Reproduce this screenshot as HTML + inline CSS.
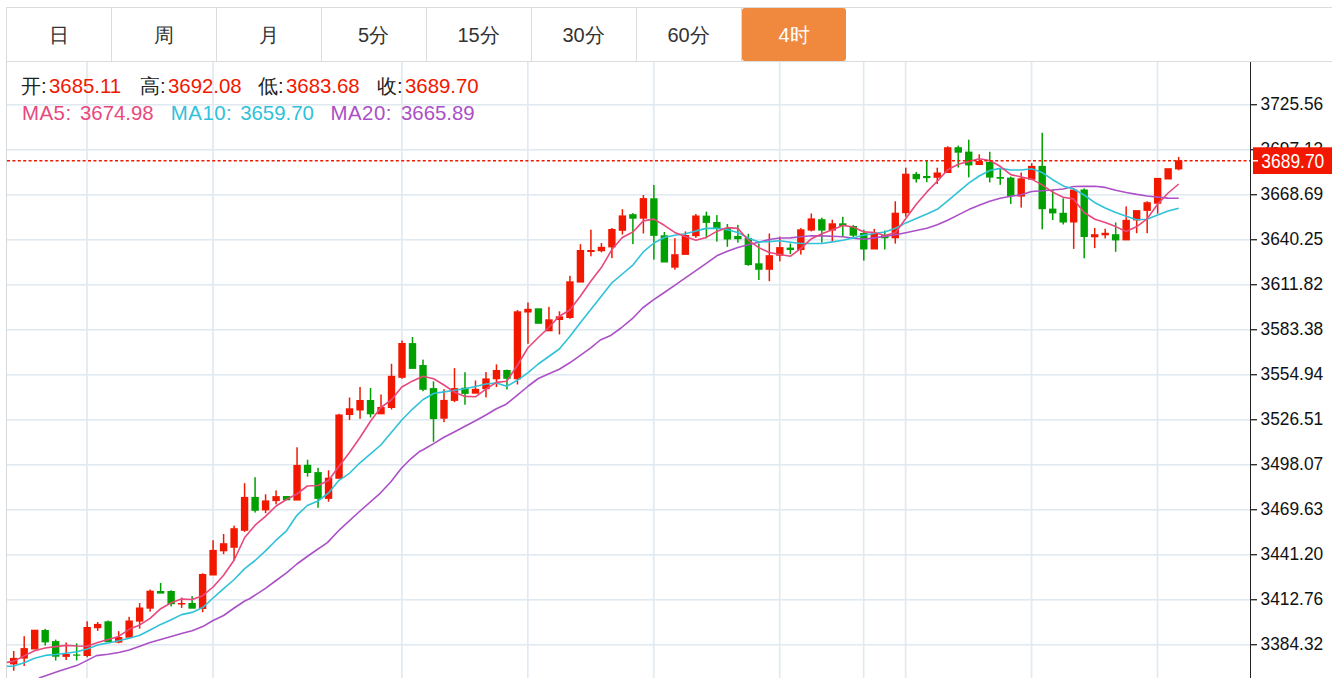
<!DOCTYPE html>
<html><head><meta charset="utf-8"><title>K</title>
<style>
*{margin:0;padding:0;box-sizing:border-box}
html,body{width:1332px;height:678px;overflow:hidden;background:#fff;font-family:"Liberation Sans",sans-serif}
.ch{position:absolute;left:0;top:0}
.tb{position:absolute;left:6px;top:7px;width:1326px;height:55px;border-top:1px solid #dcdcdc;border-bottom:1px solid #dcdcdc;border-left:1px solid #dcdcdc}
.sep{position:absolute;top:8px;width:1px;height:53px;background:#dcdcdc}
.tab{position:absolute;top:8px;width:105px;height:53px;line-height:55px;text-align:center;font-size:20px;color:#333}
.tab.on{left:742px!important;width:104px;background:#f0893e;color:#fff;border-radius:3px}
.lb{position:absolute;left:6px;top:62px;width:1px;height:616px;background:#d8d8d8}
.t{position:absolute;white-space:nowrap;font-size:20.4px;line-height:20px}
.k{color:#222}.r{color:#f21800}.m5{color:#e8487e}.m10{color:#30c2d8}.m20{color:#ab50c6}
</style></head><body>
<svg class="ch" width="1332" height="678" viewBox="0 0 1332 678">
<defs><clipPath id="cp"><rect x="7" y="62" width="1243" height="616"/></clipPath></defs>
<rect x="7" y="104" width="1243" height="1.6" fill="#e1eaf1"/>
<rect x="7" y="149" width="1243" height="1.6" fill="#e1eaf1"/>
<rect x="7" y="194" width="1243" height="1.6" fill="#e1eaf1"/>
<rect x="7" y="239" width="1243" height="1.6" fill="#e1eaf1"/>
<rect x="7" y="284" width="1243" height="1.6" fill="#e1eaf1"/>
<rect x="7" y="329" width="1243" height="1.6" fill="#e1eaf1"/>
<rect x="7" y="374" width="1243" height="1.6" fill="#e1eaf1"/>
<rect x="7" y="419" width="1243" height="1.6" fill="#e1eaf1"/>
<rect x="7" y="464" width="1243" height="1.6" fill="#e1eaf1"/>
<rect x="7" y="509" width="1243" height="1.6" fill="#e1eaf1"/>
<rect x="7" y="554" width="1243" height="1.6" fill="#e1eaf1"/>
<rect x="7" y="599" width="1243" height="1.6" fill="#e1eaf1"/>
<rect x="7" y="644" width="1243" height="1.6" fill="#e1eaf1"/>
<rect x="86.16" y="62" width="1.7" height="616" fill="#e1eaf1"/>
<rect x="212.1" y="62" width="1.7" height="616" fill="#e1eaf1"/>
<rect x="401.01" y="62" width="1.7" height="616" fill="#e1eaf1"/>
<rect x="526.96" y="62" width="1.7" height="616" fill="#e1eaf1"/>
<rect x="652.89" y="62" width="1.7" height="616" fill="#e1eaf1"/>
<rect x="778.84" y="62" width="1.7" height="616" fill="#e1eaf1"/>
<rect x="862.79" y="62" width="1.7" height="616" fill="#e1eaf1"/>
<rect x="904.77" y="62" width="1.7" height="616" fill="#e1eaf1"/>
<rect x="1030.71" y="62" width="1.7" height="616" fill="#e1eaf1"/>
<rect x="1156.65" y="62" width="1.7" height="616" fill="#e1eaf1"/>
<g clip-path="url(#cp)">
<rect x="10" y="657.9" width="7.4" height="6.5" fill="#f21800"/>
<rect x="12.95" y="651" width="1.5" height="7.4" fill="#f21800"/>
<rect x="12.95" y="663.9" width="1.5" height="6.8" fill="#f21800"/>
<rect x="20.5" y="648.1" width="7.4" height="10.5" fill="#f21800"/>
<rect x="23.45" y="636.2" width="1.5" height="12.4" fill="#f21800"/>
<rect x="23.45" y="658.1" width="1.5" height="7.8" fill="#f21800"/>
<rect x="30.99" y="629.7" width="7.4" height="19.8" fill="#f21800"/>
<rect x="41.48" y="630" width="7.4" height="12.4" fill="#00a000"/>
<rect x="44.44" y="628.9" width="1.5" height="1.6" fill="#00a000"/>
<rect x="44.44" y="641.9" width="1.5" height="3.6" fill="#00a000"/>
<rect x="51.98" y="641.1" width="7.4" height="15.6" fill="#00a000"/>
<rect x="54.93" y="639.6" width="1.5" height="2" fill="#00a000"/>
<rect x="54.93" y="656.2" width="1.5" height="4.3" fill="#00a000"/>
<rect x="62.47" y="654" width="7.4" height="2.9" fill="#f21800"/>
<rect x="65.42" y="642.5" width="1.5" height="12" fill="#f21800"/>
<rect x="65.42" y="656.4" width="1.5" height="3.6" fill="#f21800"/>
<rect x="72.97" y="654.5" width="7.4" height="1.2" fill="#00a000"/>
<rect x="75.92" y="643.3" width="1.5" height="11.7" fill="#00a000"/>
<rect x="75.92" y="655.1" width="1.5" height="5.4" fill="#00a000"/>
<rect x="83.46" y="627" width="7.4" height="29" fill="#f21800"/>
<rect x="86.41" y="621.3" width="1.5" height="6.2" fill="#f21800"/>
<rect x="86.41" y="655.5" width="1.5" height="1.8" fill="#f21800"/>
<rect x="93.96" y="623.9" width="7.4" height="4.3" fill="#f21800"/>
<rect x="96.91" y="622" width="1.5" height="2.4" fill="#f21800"/>
<rect x="96.91" y="627.7" width="1.5" height="3.2" fill="#f21800"/>
<rect x="104.45" y="621.3" width="7.4" height="20.9" fill="#00a000"/>
<rect x="107.41" y="620.5" width="1.5" height="1.3" fill="#00a000"/>
<rect x="114.95" y="637" width="7.4" height="5.6" fill="#f21800"/>
<rect x="117.9" y="631.2" width="1.5" height="6.3" fill="#f21800"/>
<rect x="117.9" y="642.1" width="1.5" height="1.2" fill="#f21800"/>
<rect x="125.44" y="620.5" width="7.4" height="17.2" fill="#f21800"/>
<rect x="128.39" y="616.8" width="1.5" height="4.2" fill="#f21800"/>
<rect x="135.94" y="607.5" width="7.4" height="14.1" fill="#f21800"/>
<rect x="138.89" y="603" width="1.5" height="5" fill="#f21800"/>
<rect x="138.89" y="621.1" width="1.5" height="7.5" fill="#f21800"/>
<rect x="146.44" y="590.7" width="7.4" height="18" fill="#f21800"/>
<rect x="149.38" y="589.5" width="1.5" height="1.7" fill="#f21800"/>
<rect x="149.38" y="608.2" width="1.5" height="3.4" fill="#f21800"/>
<rect x="156.93" y="591" width="7.4" height="2.6" fill="#00a000"/>
<rect x="159.88" y="582.9" width="1.5" height="8.6" fill="#00a000"/>
<rect x="167.42" y="591" width="7.4" height="13.2" fill="#00a000"/>
<rect x="170.37" y="590.2" width="1.5" height="1.3" fill="#00a000"/>
<rect x="170.37" y="603.7" width="1.5" height="2.7" fill="#00a000"/>
<rect x="177.92" y="603" width="7.4" height="1.5" fill="#f21800"/>
<rect x="180.87" y="597.6" width="1.5" height="5.9" fill="#f21800"/>
<rect x="180.87" y="604" width="1.5" height="3.9" fill="#f21800"/>
<rect x="188.41" y="603" width="7.4" height="5.7" fill="#00a000"/>
<rect x="191.36" y="596.1" width="1.5" height="7.4" fill="#00a000"/>
<rect x="198.91" y="574" width="7.4" height="35" fill="#f21800"/>
<rect x="201.86" y="573.3" width="1.5" height="1.2" fill="#f21800"/>
<rect x="201.86" y="608.5" width="1.5" height="3.7" fill="#f21800"/>
<rect x="209.4" y="549.9" width="7.4" height="25.6" fill="#f21800"/>
<rect x="212.35" y="540.3" width="1.5" height="10.1" fill="#f21800"/>
<rect x="219.9" y="543.2" width="7.4" height="8.1" fill="#f21800"/>
<rect x="222.85" y="534" width="1.5" height="9.7" fill="#f21800"/>
<rect x="222.85" y="550.8" width="1.5" height="3.4" fill="#f21800"/>
<rect x="230.39" y="528.2" width="7.4" height="19.6" fill="#f21800"/>
<rect x="233.34" y="525.6" width="1.5" height="3.1" fill="#f21800"/>
<rect x="233.34" y="547.3" width="1.5" height="13.2" fill="#f21800"/>
<rect x="240.89" y="496.9" width="7.4" height="33.9" fill="#f21800"/>
<rect x="243.84" y="483.2" width="1.5" height="14.2" fill="#f21800"/>
<rect x="243.84" y="530.3" width="1.5" height="1.6" fill="#f21800"/>
<rect x="251.38" y="496.9" width="7.4" height="13.9" fill="#00a000"/>
<rect x="254.33" y="477.2" width="1.5" height="20.2" fill="#00a000"/>
<rect x="254.33" y="510.3" width="1.5" height="2.3" fill="#00a000"/>
<rect x="261.88" y="500.4" width="7.4" height="10" fill="#f21800"/>
<rect x="264.83" y="494.3" width="1.5" height="6.6" fill="#f21800"/>
<rect x="264.83" y="509.9" width="1.5" height="3.3" fill="#f21800"/>
<rect x="272.38" y="496.1" width="7.4" height="5" fill="#f21800"/>
<rect x="275.32" y="490.4" width="1.5" height="6.2" fill="#f21800"/>
<rect x="275.32" y="500.6" width="1.5" height="3.7" fill="#f21800"/>
<rect x="282.87" y="496" width="7.4" height="4.3" fill="#00a000"/>
<rect x="293.36" y="464.9" width="7.4" height="35.7" fill="#f21800"/>
<rect x="296.31" y="447.3" width="1.5" height="18.1" fill="#f21800"/>
<rect x="303.86" y="464.8" width="7.4" height="8.2" fill="#00a000"/>
<rect x="306.81" y="459.7" width="1.5" height="5.6" fill="#00a000"/>
<rect x="306.81" y="472.5" width="1.5" height="4.1" fill="#00a000"/>
<rect x="314.35" y="472.1" width="7.4" height="26.8" fill="#00a000"/>
<rect x="317.3" y="467.8" width="1.5" height="4.8" fill="#00a000"/>
<rect x="317.3" y="498.4" width="1.5" height="9.3" fill="#00a000"/>
<rect x="324.85" y="477.7" width="7.4" height="21.2" fill="#f21800"/>
<rect x="327.8" y="470.3" width="1.5" height="7.9" fill="#f21800"/>
<rect x="327.8" y="498.4" width="1.5" height="3.3" fill="#f21800"/>
<rect x="335.34" y="414.5" width="7.4" height="64.3" fill="#f21800"/>
<rect x="338.29" y="413.8" width="1.5" height="1.2" fill="#f21800"/>
<rect x="345.84" y="408.3" width="7.4" height="6.7" fill="#f21800"/>
<rect x="348.79" y="397.5" width="1.5" height="11.3" fill="#f21800"/>
<rect x="348.79" y="414.5" width="1.5" height="5.5" fill="#f21800"/>
<rect x="356.33" y="400" width="7.4" height="10.5" fill="#f21800"/>
<rect x="359.28" y="387" width="1.5" height="13.5" fill="#f21800"/>
<rect x="359.28" y="410" width="1.5" height="8.8" fill="#f21800"/>
<rect x="366.83" y="400" width="7.4" height="14.3" fill="#00a000"/>
<rect x="369.78" y="388" width="1.5" height="12.5" fill="#00a000"/>
<rect x="369.78" y="413.8" width="1.5" height="3.7" fill="#00a000"/>
<rect x="377.32" y="407" width="7.4" height="7.3" fill="#f21800"/>
<rect x="380.27" y="394.5" width="1.5" height="13" fill="#f21800"/>
<rect x="387.82" y="375.8" width="7.4" height="32.2" fill="#f21800"/>
<rect x="390.77" y="363.8" width="1.5" height="12.5" fill="#f21800"/>
<rect x="390.77" y="407.5" width="1.5" height="2" fill="#f21800"/>
<rect x="398.31" y="343" width="7.4" height="34.8" fill="#f21800"/>
<rect x="401.26" y="340.5" width="1.5" height="3" fill="#f21800"/>
<rect x="401.26" y="377.3" width="1.5" height="1.5" fill="#f21800"/>
<rect x="408.81" y="343.1" width="7.4" height="25.8" fill="#00a000"/>
<rect x="411.76" y="337" width="1.5" height="6.6" fill="#00a000"/>
<rect x="419.3" y="365" width="7.4" height="24.8" fill="#00a000"/>
<rect x="422.25" y="359.6" width="1.5" height="5.9" fill="#00a000"/>
<rect x="422.25" y="389.3" width="1.5" height="1.9" fill="#00a000"/>
<rect x="429.8" y="388.1" width="7.4" height="31" fill="#00a000"/>
<rect x="432.75" y="381.3" width="1.5" height="7.3" fill="#00a000"/>
<rect x="432.75" y="418.6" width="1.5" height="23.2" fill="#00a000"/>
<rect x="440.29" y="399.9" width="7.4" height="18.8" fill="#f21800"/>
<rect x="443.24" y="389.2" width="1.5" height="11.2" fill="#f21800"/>
<rect x="443.24" y="418.2" width="1.5" height="4" fill="#f21800"/>
<rect x="450.79" y="388.1" width="7.4" height="12.8" fill="#f21800"/>
<rect x="453.74" y="368.1" width="1.5" height="20.5" fill="#f21800"/>
<rect x="453.74" y="400.4" width="1.5" height="1.8" fill="#f21800"/>
<rect x="461.28" y="387.7" width="7.4" height="6.2" fill="#00a000"/>
<rect x="464.23" y="372.2" width="1.5" height="16" fill="#00a000"/>
<rect x="464.23" y="393.4" width="1.5" height="11.3" fill="#00a000"/>
<rect x="471.78" y="388.8" width="7.4" height="4.9" fill="#f21800"/>
<rect x="474.73" y="380.5" width="1.5" height="8.8" fill="#f21800"/>
<rect x="482.27" y="378.4" width="7.4" height="10.8" fill="#f21800"/>
<rect x="485.22" y="372" width="1.5" height="6.9" fill="#f21800"/>
<rect x="485.22" y="388.7" width="1.5" height="8.7" fill="#f21800"/>
<rect x="492.77" y="370" width="7.4" height="9.3" fill="#f21800"/>
<rect x="495.72" y="364.4" width="1.5" height="6.1" fill="#f21800"/>
<rect x="495.72" y="378.8" width="1.5" height="8.3" fill="#f21800"/>
<rect x="503.26" y="370" width="7.4" height="8.8" fill="#00a000"/>
<rect x="506.21" y="369.6" width="1.5" height="0.9" fill="#00a000"/>
<rect x="506.21" y="378.3" width="1.5" height="11.2" fill="#00a000"/>
<rect x="513.76" y="311.3" width="7.4" height="68" fill="#f21800"/>
<rect x="516.71" y="310" width="1.5" height="1.8" fill="#f21800"/>
<rect x="516.71" y="378.8" width="1.5" height="5.7" fill="#f21800"/>
<rect x="524.25" y="308.8" width="7.4" height="3.7" fill="#f21800"/>
<rect x="527.21" y="302.5" width="1.5" height="6.8" fill="#f21800"/>
<rect x="527.21" y="312" width="1.5" height="31.8" fill="#f21800"/>
<rect x="534.75" y="308.3" width="7.4" height="15.5" fill="#00a000"/>
<rect x="545.25" y="319.3" width="7.4" height="12" fill="#f21800"/>
<rect x="548.2" y="306.8" width="1.5" height="13" fill="#f21800"/>
<rect x="555.74" y="316.3" width="7.4" height="3.7" fill="#f21800"/>
<rect x="558.69" y="311.3" width="1.5" height="5.5" fill="#f21800"/>
<rect x="558.69" y="319.5" width="1.5" height="15" fill="#f21800"/>
<rect x="566.24" y="281.3" width="7.4" height="36.7" fill="#f21800"/>
<rect x="569.19" y="275.8" width="1.5" height="6" fill="#f21800"/>
<rect x="569.19" y="317.5" width="1.5" height="1.3" fill="#f21800"/>
<rect x="576.73" y="250" width="7.4" height="32.6" fill="#f21800"/>
<rect x="579.68" y="244.2" width="1.5" height="6.3" fill="#f21800"/>
<rect x="587.22" y="250" width="7.4" height="2" fill="#f21800"/>
<rect x="590.17" y="229.7" width="1.5" height="20.8" fill="#f21800"/>
<rect x="590.17" y="251.5" width="1.5" height="4.8" fill="#f21800"/>
<rect x="597.72" y="246.8" width="7.4" height="4.4" fill="#f21800"/>
<rect x="600.67" y="243" width="1.5" height="4.3" fill="#f21800"/>
<rect x="600.67" y="250.7" width="1.5" height="1.6" fill="#f21800"/>
<rect x="608.21" y="229" width="7.4" height="18.4" fill="#f21800"/>
<rect x="611.16" y="228" width="1.5" height="1.5" fill="#f21800"/>
<rect x="611.16" y="246.9" width="1.5" height="11.2" fill="#f21800"/>
<rect x="618.71" y="215.4" width="7.4" height="15.4" fill="#f21800"/>
<rect x="621.66" y="209.2" width="1.5" height="6.7" fill="#f21800"/>
<rect x="621.66" y="230.3" width="1.5" height="4.3" fill="#f21800"/>
<rect x="629.2" y="214.2" width="7.4" height="4.5" fill="#00a000"/>
<rect x="632.15" y="213.1" width="1.5" height="1.6" fill="#00a000"/>
<rect x="632.15" y="218.2" width="1.5" height="25.9" fill="#00a000"/>
<rect x="639.7" y="198.1" width="7.4" height="20.6" fill="#f21800"/>
<rect x="642.65" y="195" width="1.5" height="3.6" fill="#f21800"/>
<rect x="642.65" y="218.2" width="1.5" height="15.3" fill="#f21800"/>
<rect x="650.19" y="198.3" width="7.4" height="37.6" fill="#00a000"/>
<rect x="653.14" y="185" width="1.5" height="13.8" fill="#00a000"/>
<rect x="653.14" y="235.4" width="1.5" height="24.2" fill="#00a000"/>
<rect x="660.69" y="235.3" width="7.4" height="27.2" fill="#00a000"/>
<rect x="663.64" y="232" width="1.5" height="3.8" fill="#00a000"/>
<rect x="671.18" y="254.2" width="7.4" height="13.5" fill="#f21800"/>
<rect x="674.13" y="238.2" width="1.5" height="16.5" fill="#f21800"/>
<rect x="674.13" y="267.2" width="1.5" height="2.5" fill="#f21800"/>
<rect x="681.68" y="235" width="7.4" height="19.9" fill="#f21800"/>
<rect x="684.63" y="231.4" width="1.5" height="4.1" fill="#f21800"/>
<rect x="692.17" y="215.5" width="7.4" height="20.7" fill="#f21800"/>
<rect x="695.12" y="214" width="1.5" height="2" fill="#f21800"/>
<rect x="695.12" y="235.7" width="1.5" height="2.2" fill="#f21800"/>
<rect x="702.67" y="215.6" width="7.4" height="7.3" fill="#00a000"/>
<rect x="705.62" y="211.6" width="1.5" height="4.5" fill="#00a000"/>
<rect x="705.62" y="222.4" width="1.5" height="15.9" fill="#00a000"/>
<rect x="713.16" y="222" width="7.4" height="6.1" fill="#00a000"/>
<rect x="716.12" y="215.1" width="1.5" height="7.4" fill="#00a000"/>
<rect x="716.12" y="227.6" width="1.5" height="14" fill="#00a000"/>
<rect x="723.66" y="228.1" width="7.4" height="11.4" fill="#00a000"/>
<rect x="726.61" y="224" width="1.5" height="4.6" fill="#00a000"/>
<rect x="726.61" y="239" width="1.5" height="7.8" fill="#00a000"/>
<rect x="734.15" y="235.9" width="7.4" height="3.3" fill="#00a000"/>
<rect x="737.11" y="224.9" width="1.5" height="11.5" fill="#00a000"/>
<rect x="737.11" y="238.7" width="1.5" height="4" fill="#00a000"/>
<rect x="744.65" y="237.9" width="7.4" height="27.1" fill="#00a000"/>
<rect x="747.6" y="233.8" width="1.5" height="4.6" fill="#00a000"/>
<rect x="747.6" y="264.5" width="1.5" height="1.3" fill="#00a000"/>
<rect x="755.14" y="263.3" width="7.4" height="6.5" fill="#00a000"/>
<rect x="758.1" y="243.5" width="1.5" height="20.3" fill="#00a000"/>
<rect x="758.1" y="269.3" width="1.5" height="10.7" fill="#00a000"/>
<rect x="765.64" y="255.2" width="7.4" height="14.6" fill="#f21800"/>
<rect x="768.59" y="233.5" width="1.5" height="22.2" fill="#f21800"/>
<rect x="768.59" y="269.3" width="1.5" height="11.9" fill="#f21800"/>
<rect x="776.13" y="247.1" width="7.4" height="8.6" fill="#f21800"/>
<rect x="779.09" y="236.6" width="1.5" height="11" fill="#f21800"/>
<rect x="779.09" y="255.2" width="1.5" height="6.2" fill="#f21800"/>
<rect x="786.63" y="247.6" width="7.4" height="2.4" fill="#00a000"/>
<rect x="789.58" y="243.5" width="1.5" height="4.6" fill="#00a000"/>
<rect x="789.58" y="249.5" width="1.5" height="4.6" fill="#00a000"/>
<rect x="797.12" y="229.3" width="7.4" height="20.7" fill="#f21800"/>
<rect x="800.07" y="228.1" width="1.5" height="1.7" fill="#f21800"/>
<rect x="800.07" y="249.5" width="1.5" height="5.1" fill="#f21800"/>
<rect x="807.62" y="218.4" width="7.4" height="12.2" fill="#f21800"/>
<rect x="810.57" y="213.5" width="1.5" height="5.4" fill="#f21800"/>
<rect x="810.57" y="230.1" width="1.5" height="1.3" fill="#f21800"/>
<rect x="818.11" y="219.2" width="7.4" height="11.4" fill="#00a000"/>
<rect x="821.06" y="217.6" width="1.5" height="2.1" fill="#00a000"/>
<rect x="821.06" y="230.1" width="1.5" height="12.6" fill="#00a000"/>
<rect x="828.61" y="223.3" width="7.4" height="7.3" fill="#f21800"/>
<rect x="831.56" y="219.7" width="1.5" height="4.1" fill="#f21800"/>
<rect x="831.56" y="230.1" width="1.5" height="11" fill="#f21800"/>
<rect x="839.1" y="223.3" width="7.4" height="2.7" fill="#00a000"/>
<rect x="842.05" y="216.8" width="1.5" height="7" fill="#00a000"/>
<rect x="842.05" y="225.5" width="1.5" height="10.7" fill="#00a000"/>
<rect x="849.6" y="226" width="7.4" height="9.7" fill="#00a000"/>
<rect x="852.55" y="224.9" width="1.5" height="1.6" fill="#00a000"/>
<rect x="852.55" y="235.2" width="1.5" height="1.8" fill="#00a000"/>
<rect x="860.09" y="233" width="7.4" height="16.5" fill="#00a000"/>
<rect x="863.04" y="229.7" width="1.5" height="3.8" fill="#00a000"/>
<rect x="863.04" y="249" width="1.5" height="11.6" fill="#00a000"/>
<rect x="870.59" y="233.5" width="7.4" height="16" fill="#f21800"/>
<rect x="873.54" y="228.9" width="1.5" height="5.1" fill="#f21800"/>
<rect x="881.08" y="235.1" width="7.4" height="3.2" fill="#00a000"/>
<rect x="884.03" y="230.6" width="1.5" height="5" fill="#00a000"/>
<rect x="884.03" y="237.8" width="1.5" height="11.7" fill="#00a000"/>
<rect x="891.58" y="212.7" width="7.4" height="25.6" fill="#f21800"/>
<rect x="894.53" y="201.3" width="1.5" height="11.9" fill="#f21800"/>
<rect x="894.53" y="237.8" width="1.5" height="5.8" fill="#f21800"/>
<rect x="902.07" y="173.7" width="7.4" height="39.5" fill="#f21800"/>
<rect x="905.02" y="167.7" width="1.5" height="6.5" fill="#f21800"/>
<rect x="905.02" y="212.7" width="1.5" height="4" fill="#f21800"/>
<rect x="912.57" y="173.9" width="7.4" height="5.3" fill="#00a000"/>
<rect x="915.52" y="171.9" width="1.5" height="2.5" fill="#00a000"/>
<rect x="915.52" y="178.7" width="1.5" height="3.9" fill="#00a000"/>
<rect x="923.06" y="176" width="7.4" height="2.1" fill="#00a000"/>
<rect x="926.01" y="161" width="1.5" height="15.5" fill="#00a000"/>
<rect x="926.01" y="177.6" width="1.5" height="4.6" fill="#00a000"/>
<rect x="933.56" y="172.5" width="7.4" height="5.3" fill="#f21800"/>
<rect x="936.51" y="167.7" width="1.5" height="5.3" fill="#f21800"/>
<rect x="936.51" y="177.3" width="1.5" height="6.7" fill="#f21800"/>
<rect x="944.05" y="147.2" width="7.4" height="25.8" fill="#f21800"/>
<rect x="947" y="146.3" width="1.5" height="1.4" fill="#f21800"/>
<rect x="954.55" y="147.2" width="7.4" height="5.5" fill="#00a000"/>
<rect x="957.5" y="145.6" width="1.5" height="2.1" fill="#00a000"/>
<rect x="957.5" y="152.2" width="1.5" height="15.3" fill="#00a000"/>
<rect x="965.04" y="151.6" width="7.4" height="13.8" fill="#00a000"/>
<rect x="968" y="139.7" width="1.5" height="12.4" fill="#00a000"/>
<rect x="968" y="164.9" width="1.5" height="12.5" fill="#00a000"/>
<rect x="975.54" y="161" width="7.4" height="4" fill="#f21800"/>
<rect x="978.49" y="154.4" width="1.5" height="7.1" fill="#f21800"/>
<rect x="986.03" y="161.8" width="7.4" height="15.8" fill="#00a000"/>
<rect x="988.99" y="151.8" width="1.5" height="10.5" fill="#00a000"/>
<rect x="988.99" y="177.1" width="1.5" height="5.3" fill="#00a000"/>
<rect x="996.53" y="177" width="7.4" height="1.7" fill="#00a000"/>
<rect x="999.48" y="168.4" width="1.5" height="9.1" fill="#00a000"/>
<rect x="999.48" y="178.2" width="1.5" height="6.7" fill="#00a000"/>
<rect x="1007.02" y="177.6" width="7.4" height="18.6" fill="#00a000"/>
<rect x="1009.98" y="176.6" width="1.5" height="1.5" fill="#00a000"/>
<rect x="1009.98" y="195.7" width="1.5" height="8.2" fill="#00a000"/>
<rect x="1017.52" y="178.3" width="7.4" height="18.3" fill="#f21800"/>
<rect x="1020.47" y="172.5" width="1.5" height="6.3" fill="#f21800"/>
<rect x="1020.47" y="196.1" width="1.5" height="11.5" fill="#f21800"/>
<rect x="1028.01" y="165.9" width="7.4" height="13.8" fill="#f21800"/>
<rect x="1030.96" y="163.2" width="1.5" height="3.2" fill="#f21800"/>
<rect x="1038.51" y="165.9" width="7.4" height="43.3" fill="#00a000"/>
<rect x="1041.46" y="132.8" width="1.5" height="33.6" fill="#00a000"/>
<rect x="1041.46" y="208.7" width="1.5" height="20.6" fill="#00a000"/>
<rect x="1049" y="208.6" width="7.4" height="4.8" fill="#00a000"/>
<rect x="1051.95" y="189.4" width="1.5" height="19.7" fill="#00a000"/>
<rect x="1051.95" y="212.9" width="1.5" height="7.1" fill="#00a000"/>
<rect x="1059.5" y="212.8" width="7.4" height="9.7" fill="#00a000"/>
<rect x="1062.45" y="198.3" width="1.5" height="15" fill="#00a000"/>
<rect x="1062.45" y="222" width="1.5" height="2.5" fill="#00a000"/>
<rect x="1069.99" y="189.6" width="7.4" height="32.9" fill="#f21800"/>
<rect x="1072.94" y="188" width="1.5" height="2.1" fill="#f21800"/>
<rect x="1072.94" y="222" width="1.5" height="26.9" fill="#f21800"/>
<rect x="1080.49" y="189.5" width="7.4" height="47.5" fill="#00a000"/>
<rect x="1083.44" y="188.4" width="1.5" height="1.6" fill="#00a000"/>
<rect x="1083.44" y="236.5" width="1.5" height="21.8" fill="#00a000"/>
<rect x="1090.98" y="234.2" width="7.4" height="3.1" fill="#f21800"/>
<rect x="1093.93" y="228" width="1.5" height="6.7" fill="#f21800"/>
<rect x="1093.93" y="236.8" width="1.5" height="11.3" fill="#f21800"/>
<rect x="1101.48" y="232.8" width="7.4" height="2.5" fill="#f21800"/>
<rect x="1104.43" y="228.7" width="1.5" height="4.6" fill="#f21800"/>
<rect x="1104.43" y="234.8" width="1.5" height="3.6" fill="#f21800"/>
<rect x="1111.97" y="234.2" width="7.4" height="6.2" fill="#00a000"/>
<rect x="1114.92" y="222.5" width="1.5" height="12.2" fill="#00a000"/>
<rect x="1114.92" y="239.9" width="1.5" height="11.9" fill="#00a000"/>
<rect x="1122.47" y="219.8" width="7.4" height="20.6" fill="#f21800"/>
<rect x="1125.42" y="206.4" width="1.5" height="13.9" fill="#f21800"/>
<rect x="1132.96" y="210.1" width="7.4" height="10.3" fill="#f21800"/>
<rect x="1135.91" y="219.9" width="1.5" height="13.3" fill="#f21800"/>
<rect x="1143.46" y="202.2" width="7.4" height="8.7" fill="#f21800"/>
<rect x="1146.41" y="201.2" width="1.5" height="1.5" fill="#f21800"/>
<rect x="1146.41" y="210.4" width="1.5" height="22.8" fill="#f21800"/>
<rect x="1153.95" y="177.9" width="7.4" height="25.8" fill="#f21800"/>
<rect x="1156.9" y="203.2" width="1.5" height="10.4" fill="#f21800"/>
<rect x="1164.45" y="168.2" width="7.4" height="11.3" fill="#f21800"/>
<rect x="1174.94" y="160.3" width="7.4" height="9.1" fill="#f21800"/>
<rect x="1177.89" y="156.9" width="1.5" height="3.9" fill="#f21800"/>
<rect x="1177.89" y="168.9" width="1.5" height="1.4" fill="#f21800"/>
<polyline fill="none" stroke="#ab50c6" stroke-width="1.6" stroke-linejoin="round" points="39,678 60,670.7 76.7,665.6 87.2,660.4 96.4,655.6 108.2,654.2 118.7,652.5 129.2,650 139.8,646.3 150.1,642.5 160.7,639.5 171.2,636.5 181.5,633.5 192.1,630.8 202.7,626.6 213.1,620.5 223.6,615.5 234.2,608 244.7,601 250,598.5 265.5,588.3 276.1,580.5 286.5,572.8 296.9,564 310,554.5 327.4,542.6 340,529.3 360.6,510.5 380.1,493.3 390.7,482 401.4,468.3 410.8,458.8 420,451.2 423.1,449.7 433.6,443.6 444,437.3 454.7,431.7 465,426.2 475.5,420.8 485.9,415 496.4,408.8 506.2,404.2 517.7,394.8 528.3,386 538.3,378.5 549.5,373.6 559.3,369.3 569.8,362.8 580.3,355.3 590.8,347.8 600.3,340 611.2,335.2 621,328 632.3,318.7 642.6,308 653,300.1 664.3,292.5 674.7,285.3 685.4,277.8 695.9,270.6 706.3,263.3 716.8,255.8 727.4,251.3 737.8,247.6 748.3,244.8 758.8,242.2 769.2,239.5 779.8,238 790.5,237.9 800.9,236.7 811.5,235.7 821.9,235.9 832.4,236.2 842.9,236.7 853.3,238.2 863.9,239.2 874.3,237.9 884.8,236.4 895.4,234.8 905.8,232.7 916.3,230.5 926.9,228.2 937.3,224.7 947.7,220.3 958.3,214.9 968.8,209.6 979.2,205.2 989.7,201.3 1000.2,198.3 1010.8,196.2 1021.3,194.8 1031.6,191.5 1042.1,190.7 1052.7,190 1063.2,189 1073.5,186.5 1084.1,186.4 1094.9,186.3 1105.2,187.4 1115.7,190.3 1126.2,192.5 1136.8,194.4 1147.1,196 1157.6,197.1 1168.1,198.1 1178.7,198.3"/>
<polyline fill="none" stroke="#30c2d8" stroke-width="1.6" stroke-linejoin="round" points="7,666.3 13.7,666.1 24.1,662.8 34.6,658.2 45.2,655.4 55.5,654.5 66.1,653.2 76.7,651.8 87.2,648.9 97.7,644.9 108.2,643 118.7,640.8 129.2,638.2 139.8,635.2 150.1,630 160.7,624.4 171.2,619.7 181.5,614.6 192.1,612.4 202.7,607.6 213.1,598 223.6,588.6 234.2,579.5 244.7,568.6 255.1,560.5 265.5,550.9 276.1,540.2 286.5,530.8 296.9,515.3 307.3,505.5 318,501 328.5,493 339,480.3 349.5,473.3 360,462.8 370.5,453.8 380.8,445 391.3,432.5 401.8,420 412.8,408.8 423.1,399.5 433.6,393.5 444,391.9 454.7,390.2 465,388.8 475.5,386.5 485.9,384 496.4,383 506.7,386.3 517.3,380.3 527.8,372.8 538.3,364 548.8,356.5 559.3,349 569.8,336.5 580.3,322.8 590.8,309.5 601.5,296.1 611.9,282.8 622.3,274 632.9,265.1 643.3,251.9 653.9,243 664.3,237.5 674.7,235.3 685.4,233.7 695.9,230.9 706.3,228.4 716.8,228.4 727.4,229.7 737.8,232.5 748.3,237.9 758.8,241.9 769.2,241.6 779.8,240.8 790.5,242.2 800.9,243.5 811.5,243.5 821.9,243.5 832.4,241.9 842.9,240.3 853.3,237.9 863.9,235.1 874.3,233.5 884.8,232 895.4,228.2 905.8,222.9 916.3,218.5 926.9,214.1 937.3,209.3 947.7,200.8 958.3,191.9 968.8,183.1 979.2,176 989.7,170.5 1000.2,168.4 1010.8,170 1021.3,170 1031.6,168.8 1042.1,172.5 1052.7,179.7 1063.2,185.9 1073.5,189 1084.1,195 1094.9,202.7 1105.2,208 1115.7,212.6 1126.2,216.3 1136.8,219.8 1147.1,219.2 1157.6,215 1168.1,211.1 1178.7,208.2"/>
<polyline fill="none" stroke="#e8487e" stroke-width="1.6" stroke-linejoin="round" points="7,662.4 13.7,661.4 24.1,655.9 34.6,650.7 45.2,648 55.5,646.6 66.1,645.4 76.7,646 87.2,646.2 97.7,642.5 108.2,639.6 118.7,636.4 129.2,629.3 139.8,624.9 150.1,618.3 160.7,608.7 171.2,602.8 181.5,599.1 192.1,599.5 202.7,595.7 213.1,587 223.6,575.3 234.2,560 244.7,537.5 255.1,525.2 265.5,516.4 276.1,506 286.5,499.5 296.9,494 307.3,486 318,485.5 328.5,480.5 339,466.3 349.5,452.5 360,437.5 370.5,421.3 380.8,407.5 391.3,400 401.8,387 412.8,380.9 423.1,376.2 433.6,378.8 444,385 454.7,392.3 465,396.4 475.5,396.8 485.9,389.2 496.4,382.4 506.7,381.2 517.3,365.5 527.8,348 538.3,337.5 548.8,327.5 559.3,316.3 569.8,310 580.3,296.3 590.8,281.3 601.5,267.3 611.9,249.6 622.3,237.5 632.9,232 643.3,220.9 653.9,219.1 664.3,225.3 674.7,232.4 685.4,236.5 695.9,240.3 706.3,237.4 716.8,231.4 727.4,227.6 737.8,228.4 748.3,240.3 758.8,247.6 769.2,252.5 779.8,254.5 790.5,256.2 800.9,248.4 811.5,238.7 821.9,233.8 832.4,229.7 842.9,225.4 853.3,227 863.9,231.9 874.3,232.5 884.8,235.5 895.4,232.7 905.8,218.5 916.3,204.3 926.9,191.9 937.3,181.3 947.7,169.8 958.3,164.2 968.8,161.5 979.2,158.7 989.7,160.5 1000.2,166.3 1010.8,174.6 1021.3,177 1031.6,179.1 1042.1,184.9 1052.7,192.1 1063.2,197.3 1073.5,198.9 1084.1,212.5 1094.9,219.2 1105.2,222.5 1115.7,226.6 1126.2,231.5 1136.8,226.6 1147.1,218.8 1157.6,204.3 1168.1,193 1178.7,184"/>
</g>
<line x1="7" y1="160.8" x2="1250" y2="160.8" stroke="#f21800" stroke-width="1.6" stroke-dasharray="3 2.4"/>
<g font-family="Liberation Sans, sans-serif" font-size="18.2" fill="#111">
<rect x="1250" y="62" width="1" height="616" fill="#222"/>
<rect x="1251" y="104" width="6" height="1.4" fill="#333"/>
<text x="1260.6" y="110.4" textLength="62.6" lengthAdjust="spacingAndGlyphs">3725.56</text>
<rect x="1251" y="149" width="6" height="1.4" fill="#333"/>
<text x="1260.6" y="155.4" textLength="62.6" lengthAdjust="spacingAndGlyphs">3697.13</text>
<rect x="1251" y="194" width="6" height="1.4" fill="#333"/>
<text x="1260.6" y="200.4" textLength="62.6" lengthAdjust="spacingAndGlyphs">3668.69</text>
<rect x="1251" y="239" width="6" height="1.4" fill="#333"/>
<text x="1260.6" y="245.4" textLength="62.6" lengthAdjust="spacingAndGlyphs">3640.25</text>
<rect x="1251" y="284" width="6" height="1.4" fill="#333"/>
<text x="1260.6" y="290.4" textLength="62.6" lengthAdjust="spacingAndGlyphs">3611.82</text>
<rect x="1251" y="329" width="6" height="1.4" fill="#333"/>
<text x="1260.6" y="335.4" textLength="62.6" lengthAdjust="spacingAndGlyphs">3583.38</text>
<rect x="1251" y="374" width="6" height="1.4" fill="#333"/>
<text x="1260.6" y="380.4" textLength="62.6" lengthAdjust="spacingAndGlyphs">3554.94</text>
<rect x="1251" y="419" width="6" height="1.4" fill="#333"/>
<text x="1260.6" y="425.4" textLength="62.6" lengthAdjust="spacingAndGlyphs">3526.51</text>
<rect x="1251" y="464" width="6" height="1.4" fill="#333"/>
<text x="1260.6" y="470.4" textLength="62.6" lengthAdjust="spacingAndGlyphs">3498.07</text>
<rect x="1251" y="509" width="6" height="1.4" fill="#333"/>
<text x="1260.6" y="515.4" textLength="62.6" lengthAdjust="spacingAndGlyphs">3469.63</text>
<rect x="1251" y="554" width="6" height="1.4" fill="#333"/>
<text x="1260.6" y="560.4" textLength="62.6" lengthAdjust="spacingAndGlyphs">3441.20</text>
<rect x="1251" y="599" width="6" height="1.4" fill="#333"/>
<text x="1260.6" y="605.4" textLength="62.6" lengthAdjust="spacingAndGlyphs">3412.76</text>
<rect x="1251" y="644" width="6" height="1.4" fill="#333"/>
<text x="1260.6" y="650.4" textLength="62.6" lengthAdjust="spacingAndGlyphs">3384.32</text>
</g>
<rect x="1253" y="147.3" width="79" height="26.7" fill="#f21800"/>
<rect x="1252.5" y="160.1" width="5.5" height="1.4" fill="#fff"/>
<text x="1261.3" y="167.9" font-family="Liberation Sans, sans-serif" font-size="19.4" fill="#fff" textLength="63" lengthAdjust="spacingAndGlyphs">3689.70</text>
</svg>
<div class="tb"></div>
<div class="sep" style="left:111px"></div><div class="sep" style="left:216px"></div><div class="sep" style="left:321px"></div><div class="sep" style="left:426px"></div><div class="sep" style="left:531px"></div><div class="sep" style="left:636px"></div><div class="sep" style="left:741px"></div>
<div class="tab" style="left:6px">日</div><div class="tab" style="left:111px">周</div><div class="tab" style="left:216px">月</div><div class="tab" style="left:321px">5分</div><div class="tab" style="left:426px">15分</div><div class="tab" style="left:531px">30分</div><div class="tab" style="left:636px">60分</div><div class="tab on" style="left:741px">4时</div>
<div class="lb"></div>
<span class="t k" style="left:21px;top:75.5px">开:</span><span class="t r" style="left:49px;top:75.5px">3685.11</span>
<span class="t k" style="left:140px;top:75.5px">高:</span><span class="t r" style="left:168px;top:75.5px">3692.08</span>
<span class="t k" style="left:258px;top:75.5px">低:</span><span class="t r" style="left:286px;top:75.5px">3683.68</span>
<span class="t k" style="left:377px;top:75.5px">收:</span><span class="t r" style="left:405px;top:75.5px">3689.70</span>
<span class="t m5" style="left:22px;top:103px;letter-spacing:0.5px">MA5:</span><span class="t m5" style="left:80px;top:103px">3674.98</span>
<span class="t m10" style="left:170.8px;top:103px;letter-spacing:0.5px">MA10:</span><span class="t m10" style="left:240.2px;top:103px">3659.70</span>
<span class="t m20" style="left:330.5px;top:103px;letter-spacing:0.5px">MA20:</span><span class="t m20" style="left:401px;top:103px">3665.89</span>
</body></html>
